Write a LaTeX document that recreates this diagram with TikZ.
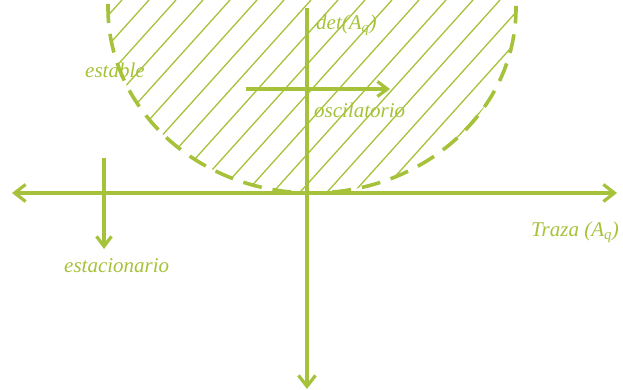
\documentclass[tikz,border=0pt]{standalone}
\usepackage{fontspec}
\setmainfont{Liberation Serif}
\usetikzlibrary{arrows.meta,positioning}
\definecolor{lime}{RGB}{166,194,58}
\tikzset{
  axis/.style={line width=3.2pt, lime, {Straight Barb[length=11pt,width=17pt]}-{Straight Barb[length=11pt,width=17pt]}},
  downaxis/.style={line width=3.2pt, lime, -{Straight Barb[length=11pt,width=17pt]}},
  region/.style={line width=3.6pt, lime, dash pattern=on 19pt off 11pt},
  hatch/.style={line width=1.3pt, lime},
  arrow/.style={line width=3.2pt, lime, -{Straight Barb[length=10pt,width=15pt]}},
  lbl/.style={text=lime, font=\fontsize{21}{23}\selectfont\itshape, inner sep=0pt, anchor=west}
}
\begin{document}
\begin{tikzpicture}[x=1pt,y=-1pt]
  \useasboundingbox (0,0) rectangle (623,390);
  % hatched region inside the curve
  \begin{scope}
    \clip (108,0) -- (108,8) arc[start angle=180, end angle=0, x radius=204, y radius=185] -- (516,0) -- cycle;
    \foreach \x in {-220,-193,...,560}
      \draw[hatch] (\x,200) -- (\x+180,0);
  \end{scope}
  \draw[region] (108,4) -- (108,8) arc[start angle=180, end angle=0, x radius=204, y radius=185] -- (516,6);
  % axes
  \coordinate (west) at (12,193);
  \coordinate (east) at (617,193);
  \coordinate (north) at (307,8);
  \coordinate (south) at (307,389);
  \draw[axis] (west) -- (east);
  \draw[downaxis] (north) -- (south);
  % arrows
  \coordinate (osc0) at (246,89);
  \coordinate (osc1) at (390,89);
  \coordinate (est0) at (104,158);
  \coordinate (est1) at (104,249);
  \draw[arrow] (osc0) -- (osc1);
  \draw[arrow] (est0) -- (est1);
  % labels
  \node[lbl] (det) at (316,25) {det(A\textsubscript{q})};
  \node[lbl] (estable) at (85,70) {estable};
  \node[lbl] (osc) at (314,110) {oscilatorio};
  \node[lbl] (traza) at (531,232) {Traza (A\textsubscript{q})};
  \node[lbl] (estac) at (64,266) {estacionario};
\end{tikzpicture}
\end{document}
